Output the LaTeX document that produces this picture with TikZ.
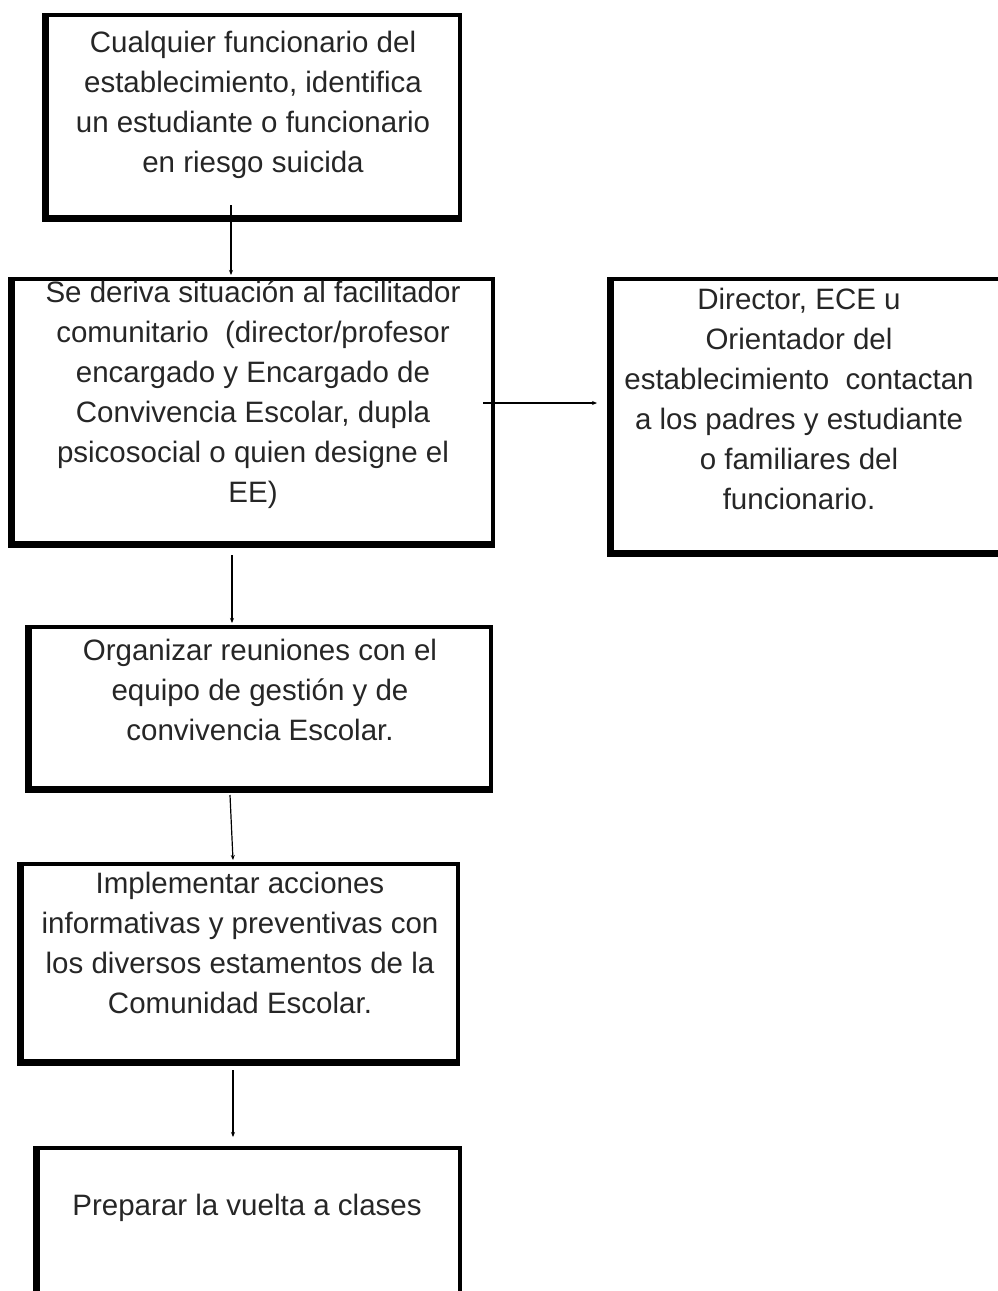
\documentclass[tikz,border=0pt]{standalone}
\usepackage{fontspec}
\setmainfont{Liberation Sans}
\usetikzlibrary{arrows.meta}
\begin{document}
\begin{tikzpicture}[x=1pt,y=-1pt,
  box/.style={draw, line width=4pt, inner sep=0pt, rectangle},
  txt/.style={align=center, inner sep=0pt, font=\fontsize{29.5}{40}\selectfont, text=black!85},
  arr/.style={line width=1.2pt, -{Stealth[length=5pt,width=4pt]}},
  boxshade/.style={line width=3pt}]
\useasboundingbox (0,0) rectangle (998,1291);

\node[box, minimum width=413pt, minimum height=202pt] (b1) at (253.5,116) {};
\node[box, minimum width=480pt, minimum height=264pt] (b2) at (253,411) {};
\node[box, minimum width=398pt, minimum height=273pt] (b3) at (811,415.5) {};
\node[box, minimum width=461pt, minimum height=161pt] (b4) at (260.5,707.5) {};
\node[box, minimum width=436pt, minimum height=197pt] (b5) at (240,962.5) {};
\node[box, minimum width=422pt, minimum height=172pt] (b6) at (249,1234) {};

\foreach \n in {b1,b2,b3,b4,b5,b6}
  \draw[boxshade] ([xshift=-1.5pt]\n.north west) -- ([xshift=-1.5pt,yshift=-1.5pt]\n.south west) -- ([yshift=-1.5pt]\n.south east);

\node[txt, anchor=base] (t1) at (253,172) {Cualquier funcionario del\\establecimiento, identifica\\un estudiante o funcionario\\en riesgo suicida};
\node[txt, anchor=base] (t2) at (253,502) {Se deriva situación al facilitador\\comunitario\ \ (director/profesor\\encargado y Encargado de\\Convivencia Escolar, dupla\\psicosocial o quien designe el\\EE)};
\node[txt, anchor=base] (t3) at (799,509) {Director, ECE u\\Orientador del\\establecimiento\ \ contactan\\a los padres y estudiante\\o familiares del\\funcionario.};
\node[txt, anchor=base] (t4) at (260,740) {Organizar reuniones con el\\equipo de gestión y de\\convivencia Escolar.};
\node[txt, anchor=base] (t5) at (240,1013) {Implementar acciones\\informativas y preventivas con\\los diversos estamentos de la\\Comunidad Escolar.};
\node[txt, anchor=base] (t6) at (247,1215) {Preparar la vuelta a clases};

\draw[arr] ([xshift=-22.5pt,yshift=14pt]b1.south) -- ([xshift=-22pt,yshift=2pt]b2.north);
\draw[arr] ([xshift=-21pt,yshift=-10pt]b2.south) -- ([xshift=-28.5pt,yshift=2pt]b4.north);
\draw[arr] ([xshift=-30.5pt,yshift=-5pt]b4.south) -- ([xshift=-7pt,yshift=2pt]b5.north);
\draw[arr] ([xshift=-7pt,yshift=-7pt]b5.south) -- ([xshift=-16pt,yshift=9pt]b6.north);
\draw[arr] ([xshift=-12pt,yshift=8pt]b2.east) -- ([xshift=-13pt,yshift=12.5pt]b3.west);
\end{tikzpicture}
\end{document}
